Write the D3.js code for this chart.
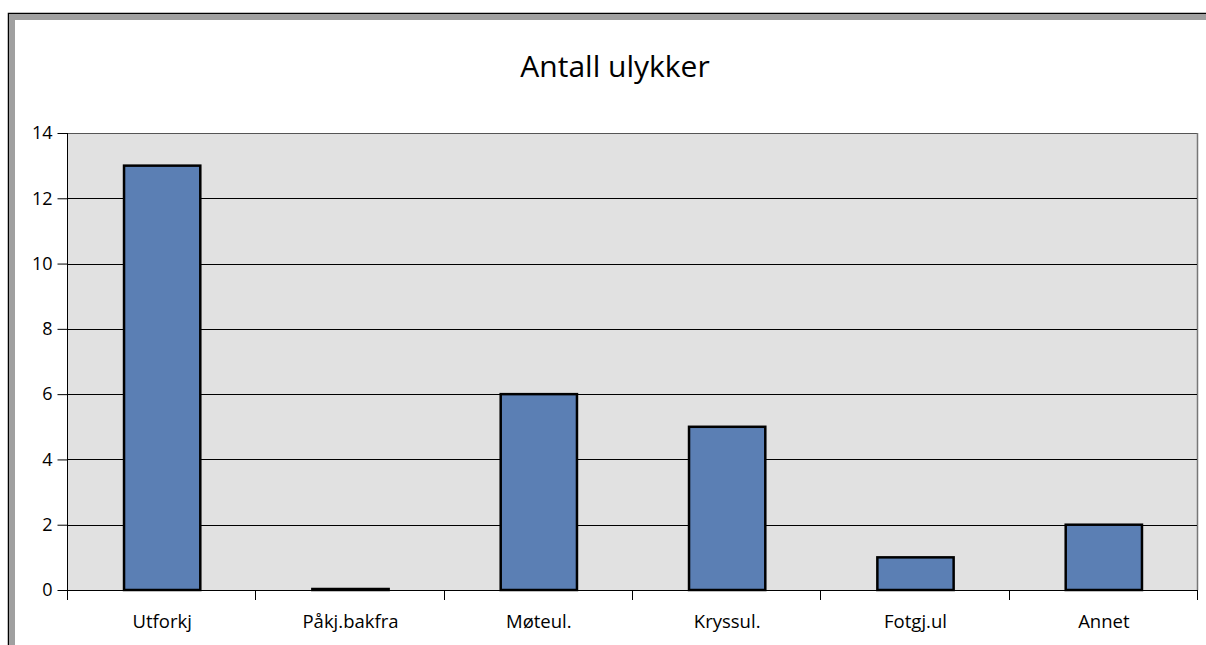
<!DOCTYPE html>
<html><head><meta charset="utf-8">
<script src="https://cdn.jsdelivr.net/npm/d3@7/dist/d3.min.js"></script>
<style>
html,body{margin:0;padding:0;background:#fff;overflow:hidden;}
text{font-family:"Open Sans","Noto Sans",sans-serif;fill:#000;}
</style></head>
<body>
<svg id="c" width="1206" height="645"></svg>
<script>
const categories = ["Utforkj","Påkj.bakfra","Møteul.","Kryssul.","Fotgj.ul","Annet"];
const values = [13,0,6,5,1,2];
const yTicks = [0,2,4,6,8,10,12,14];
const title = "Antall ulykker";

const svg = d3.select("#c");
// outer frame (top and left visible)
svg.append("rect").attr("x",8.5).attr("y",13.5).attr("width",1300).attr("height",800)
  .attr("fill","none").attr("stroke","#000").attr("stroke-width",1.5);
svg.append("rect").attr("x",9).attr("y",14).attr("width",1300).attr("height",6).attr("fill","#a0a0a0");
svg.append("rect").attr("x",9).attr("y",14).attr("width",6).attr("height",800).attr("fill","#a0a0a0");

const L=67, R=1197, T=133, B=590;
const x = d3.scaleBand().domain(categories).range([L,R]).paddingInner(0).paddingOuter(0);
const y = d3.scaleLinear().domain([0,14]).range([B,T]);

svg.append("rect").attr("x",L).attr("y",T).attr("width",R-L).attr("height",B-T).attr("fill","#e1e1e1");
// right/top plot border
svg.append("line").attr("x1",L).attr("x2",R).attr("y1",T+0.5).attr("y2",T+0.5).attr("stroke","#555").attr("stroke-width",1);
svg.append("line").attr("x1",R+0.5).attr("x2",R+0.5).attr("y1",T).attr("y2",B).attr("stroke","#777").attr("stroke-width",1.5);

// gridlines
svg.append("g").selectAll("line").data(yTicks.filter(d=>d>0 && d<14)).join("line")
  .attr("x1",L).attr("x2",R).attr("y1",d=>Math.round(y(d))+0.5).attr("y2",d=>Math.round(y(d))+0.5)
  .attr("stroke","#000").attr("stroke-width",1);

// bars
const bw = x.bandwidth()*0.405;
svg.append("g").selectAll("rect").data(values).join("rect")
  .attr("x",(d,i)=>x(categories[i])+x.bandwidth()/2-bw/2+1)
  .attr("y",d=>y(d)-(d===0?1:0))
  .attr("width",bw)
  .attr("height",d=>Math.max(B-y(d),1))
  .attr("fill","#5b7fb4").attr("stroke","#000").attr("stroke-width",2.5);

// y axis
const ya = d3.axisLeft(y).tickValues(yTicks).tickSize(10).tickPadding(5).tickFormat(d3.format("d"));
const gy = svg.append("g").attr("transform",`translate(${L+0.5},0)`).call(ya);
gy.select(".domain").attr("d",`M0,${T}V${B}`).attr("stroke","#000");
gy.selectAll(".tick line").attr("stroke","#000");
gy.selectAll("text").attr("font-size",18).attr("font-family","'Open Sans',sans-serif").attr("fill","#000");

// x axis
const xb = d3.scaleLinear().domain([0,categories.length]).range([L,R]);
svg.append("line").attr("x1",L).attr("x2",R).attr("y1",B+0.5).attr("y2",B+0.5).attr("stroke","#000");
svg.append("g").selectAll("line").data(d3.range(categories.length+1)).join("line")
  .attr("x1",d=>Math.round(xb(d))+0.5).attr("x2",d=>Math.round(xb(d))+0.5)
  .attr("y1",B).attr("y2",B+10).attr("stroke","#000");
svg.append("g").selectAll("text").data(categories).join("text")
  .attr("x",d=>x(d)+x.bandwidth()/2+1).attr("y",628)
  .attr("text-anchor","middle").attr("font-size",18.5).text(d=>d);

svg.append("text").attr("x",615).attr("y",77).attr("text-anchor","middle")
  .attr("font-size",30).text(title);
</script>
</body></html>
